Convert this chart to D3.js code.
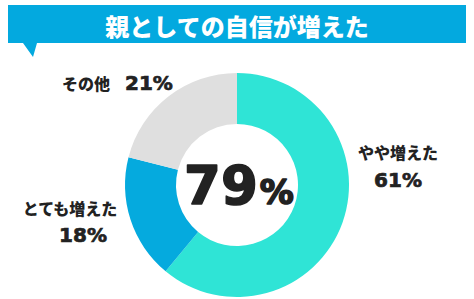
<!DOCTYPE html>
<html><head><meta charset="utf-8">
<script src="https://cdn.jsdelivr.net/npm/d3@7"></script>
<style>
html,body{margin:0;padding:0;background:#fff;}
svg{display:block;}
text{font-family:"Noto Sans CJK JP","Noto Sans",sans-serif;}
.num{font-family:"DejaVu Sans",sans-serif;}
</style></head>
<body>
<svg id="c" width="474" height="299"></svg>
<script>
const title = "親としての自信が増えた";
const categories = ["やや増えた", "とても増えた", "その他"];
const values = [61, 18, 21];
const colors = ["#2fe4d6", "#05aade", "#dfdfdf"];
const centerValue = 79;

const svg = d3.select("#c");

// Banner
svg.append("path")
  .attr("d", "M8,5 H466 V43 H37 L33,57 L23,43 H8 Z")
  .attr("fill", "#03a9df");
svg.append("text")
  .attr("x", 237).attr("y", 25)
  .attr("text-anchor", "middle").attr("dominant-baseline", "central")
  .attr("fill", "#fff").attr("font-size", 24).attr("font-weight", 900)
  .text(title);

// Donut
const cx = 237, cy = 185, rO = 112, rI = 61;
const g = svg.append("g").attr("transform", `translate(${cx},${cy})`);
const pie = d3.pie().sort(null).value(d => d)(values);
const arc = d3.arc().innerRadius(rI).outerRadius(rO);
g.selectAll("path").data(pie).join("path")
  .attr("d", arc)
  .attr("fill", (d, i) => colors[i]);

// Center text
const ct = svg.append("text").attr("class", "num")
  .attr("x", 239).attr("y", 204)
  .attr("text-anchor", "middle")
  .attr("fill", "#222").attr("stroke", "#222").attr("stroke-width", 1.6)
  .attr("stroke-linejoin", "round")
  .attr("font-weight", "bold");
ct.append("tspan").attr("font-size", 53).text(centerValue);
ct.append("tspan").attr("font-size", 34).attr("dx", 2).text("%");

// Labels
const txtColor = "#222";
function lab(x, y, s, size, anchor, cls) {
  svg.append("text").attr("x", x).attr("y", y)
    .attr("class", cls || null)
    .attr("text-anchor", anchor || "middle").attr("dominant-baseline", "central")
    .attr("fill", txtColor).attr("font-size", size)
    .attr("stroke", cls ? txtColor : "none").attr("stroke-width", 0.7)
    .attr("font-weight", cls ? "bold" : 900)
    .text(s);
}
// やや増えた 61%
lab(398, 152, categories[0], 16);
lab(398, 180, values[0] + "%", 20, "middle", "num");
// とても増えた 18%
lab(70, 208, categories[1], 16);
lab(83, 235, values[1] + "%", 20, "middle", "num");
// その他 21%
lab(62, 83, categories[2], 16, "start");
lab(125, 83, values[2] + "%", 20, "start", "num");
</script>
</body></html>
